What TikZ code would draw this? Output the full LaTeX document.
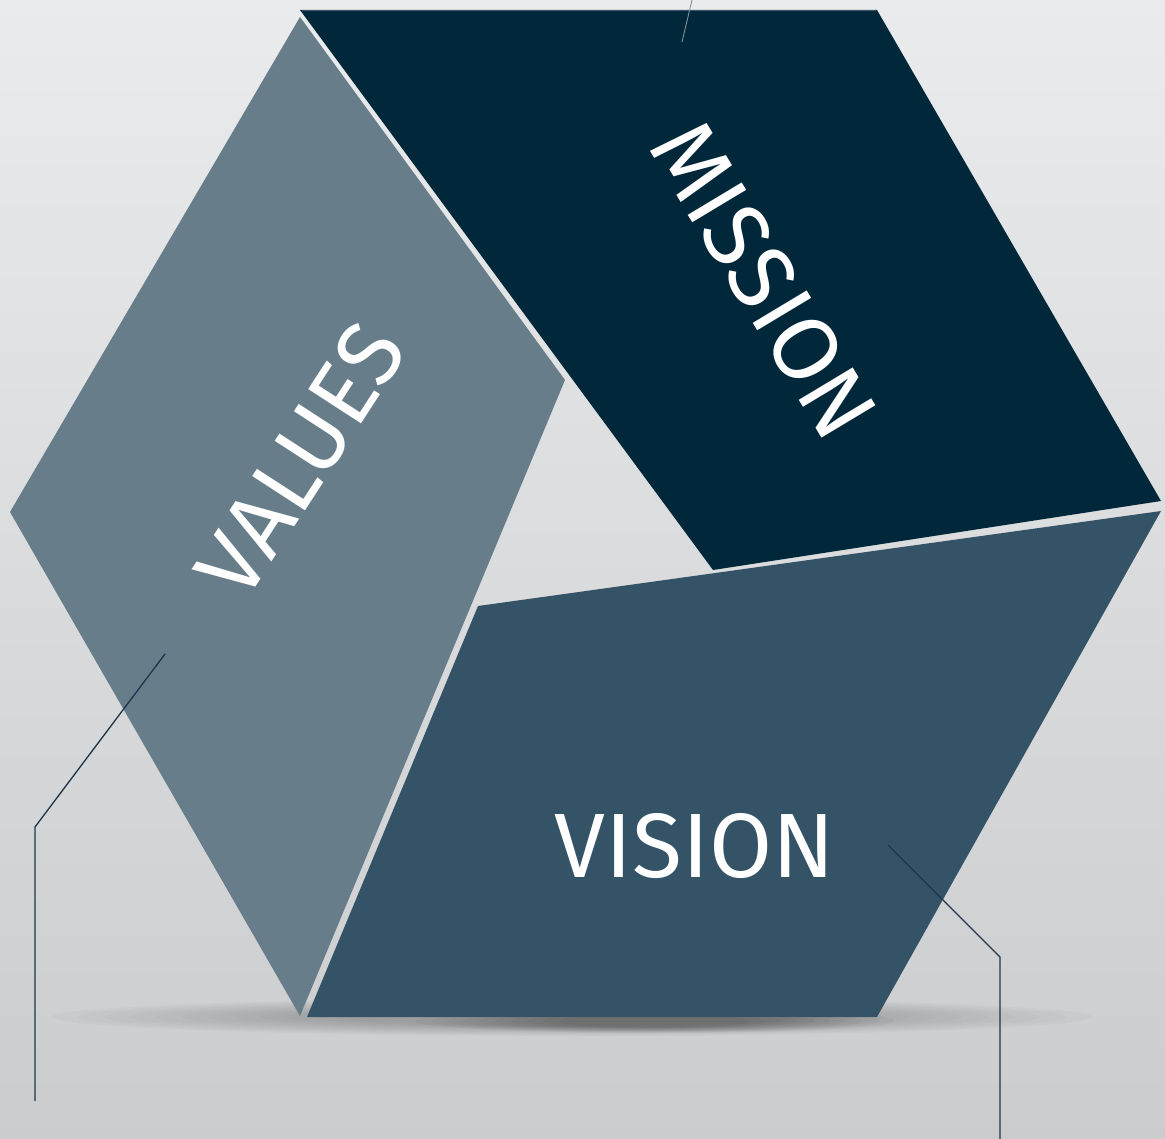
\documentclass[tikz,border=0pt]{standalone}
\usepackage{fontspec}
\usepackage{tikz}
\newfontfamily\thinfont{Fira Sans}
\definecolor{bgtop}{HTML}{EAEBED}
\definecolor{bgbot}{HTML}{CBCCCE}
\definecolor{val}{HTML}{687D8A}
\definecolor{mis}{HTML}{01283A}
\definecolor{vis}{HTML}{355366}
\definecolor{leader}{HTML}{1D3649}
\definecolor{mlead}{HTML}{7D909C}
\definecolor{mtop}{HTML}{3E5667}
\tikzset{
  panel/.style={draw=none},
  lead/.style={draw=leader, line width=0.75pt},
  word/.style={text=white, inner sep=0pt, font=\thinfont\fontsize{52}{52}\selectfont},
}

\begin{document}
\begin{tikzpicture}[x=0.2mm,y=-0.2mm]
  \shade[top color=bgtop, bottom color=bgbot] (0,0) rectangle (1165,1139);
  \useasboundingbox (0,0) rectangle (1165,1139);
  \foreach \r in {0,...,11}
    \fill[black, opacity=0.02] (572,1017) ellipse ({520-\r*26} and {19-\r*0.9});
  \foreach \r in {0,...,9}
    \fill[black, opacity=0.03] (655,1021) ellipse ({240-\r*16} and {12-\r*0.6});
  \fill[val, panel] (300,17) -- (565,380) -- (300,1016) -- (10,512) -- cycle;
  \fill[mis, panel] (300,10) -- (877,10) -- (1161,501) -- (713,570) -- cycle;
  \draw[mtop, line width=0.5pt] (302,10.5) -- (876,10.5);
  \fill[vis, panel] (478,606) -- (1161,511) -- (877,1017) -- (307,1017) -- cycle;
  \node[word, rotate=57] (values) at (301,460) {VALUES};
  \node[word, rotate=-59] (mission) at (764,280) {MISSION};
  \node[word] (vision) at (695,846) {VISION};
  \coordinate (va) at (165,654);
  \coordinate (vb) at (35,827);
  \coordinate (vc) at (35,1101);
  \coordinate (sa) at (888,845);
  \coordinate (sb) at (1000,957);
  \coordinate (sc) at (1000,1139);
  \coordinate (ma) at (682,42);
  \coordinate (mb) at (692,0);
  \draw[lead] (va) -- (vb) -- (vc);
  \draw[lead] (sa) -- (sb) -- (sc);
  \draw[mlead, line width=0.5pt] (ma) -- (mb);
\end{tikzpicture}
\end{document}
